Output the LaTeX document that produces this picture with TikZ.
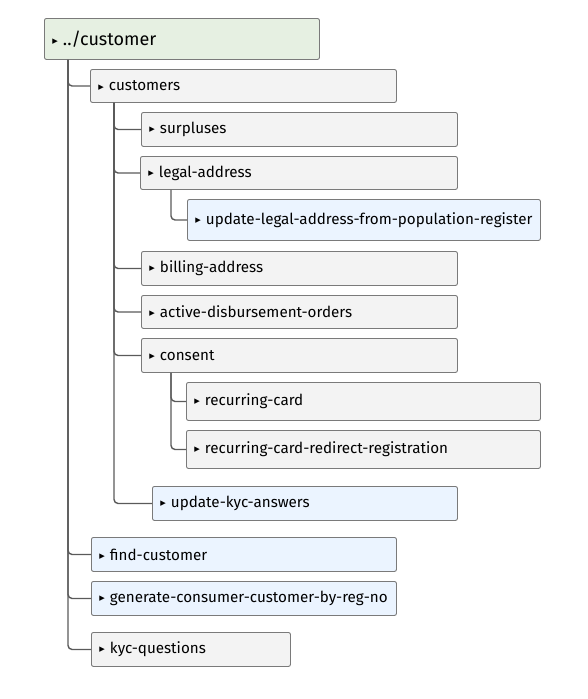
\documentclass[tikz,border=0pt]{standalone}
\usepackage{fontspec}
\setmainfont{Fira Sans}
\newfontfamily\arrowfont{DejaVu Sans}
\definecolor{greyfill}{HTML}{F3F3F3}
\definecolor{bluefill}{HTML}{EBF4FF}
\definecolor{greenfill}{HTML}{E6F0E2}
\definecolor{boxline}{HTML}{7A7A7A}
\definecolor{treeline}{HTML}{5A5A5A}
\newcommand{\tip}{{\arrowfont\fontsize{11}{11}\selectfont\raisebox{0.8pt}{▸}}\hspace{5pt}}
\tikzset{
  entry/.style={draw=boxline, line width=0.9pt, rounded corners=2pt, anchor=north west,
    inner xsep=8pt, inner ysep=0pt, align=left, font=\fontsize{15.2}{17}\selectfont},
  greybox/.style={entry, fill=greyfill},
  bluebox/.style={entry, fill=bluefill},
  rootbox/.style={entry, fill=greenfill, font=\fontsize{18}{20}\selectfont},
  link/.style={draw=treeline, line width=1.4pt, rounded corners=4pt}
}
\begin{document}
\begin{tikzpicture}[x=1pt, y=-1pt]
  \useasboundingbox (0,0) rectangle (587,699);
  % boxes
  \node[rootbox, text width=259pt, minimum height=41pt] (root) at (44,18) {\tip../customer};
  \node[greybox, text width=290pt, minimum height=33pt] (customers) at (90,69) {\tip customers};
  \node[greybox, text width=300pt, minimum height=34pt] (surpluses) at (141,112) {\tip surpluses};
  \node[greybox, text width=301pt, minimum height=33pt] (legal) at (140,156) {\tip legal-address};
  \node[bluebox, text width=337pt, minimum height=41pt] (poplegal) at (187,199) {\mbox{\tip update-legal-address-from-population-register}};
  \node[greybox, text width=300pt, minimum height=34pt] (billing) at (141,251) {\tip billing-address};
  \node[greybox, text width=300pt, minimum height=33pt] (disburse) at (141,295) {\tip active-disbursement-orders};
  \node[greybox, text width=300pt, minimum height=34pt] (consent) at (141,338) {\tip consent};
  \node[greybox, text width=338pt, minimum height=38pt] (card) at (186,382) {\tip recurring-card};
  \node[greybox, text width=338pt, minimum height=38pt] (redirect) at (186,430) {\tip recurring-card-redirect-registration};
  \node[bluebox, text width=289pt, minimum height=34pt] (kycanswers) at (152,486) {\tip update-kyc-answers};
  \node[bluebox, text width=289pt, minimum height=34pt] (find) at (91,537) {\tip find-customer};
  \node[bluebox, text width=289pt, minimum height=34pt] (generate) at (91,581) {\tip generate-consumer-customer-by-reg-no};
  \node[greybox, text width=183pt, minimum height=34pt] (kycquestions) at (91,632) {\tip kyc-questions};
  % tree lines
  \foreach \kid in {kycquestions, generate, find, customers}
    \draw[link] ([xshift=24pt]root.south west) |- (\kid.west);
  \foreach \kid in {kycanswers, consent, disburse, billing, legal, surpluses}
    \draw[link] ([xshift=24pt]customers.south west) |- (\kid.west);
  \draw[link] ([xshift=31pt]legal.south west) |- (poplegal.west);
  \foreach \kid in {redirect, card}
    \draw[link] ([xshift=30pt]consent.south west) |- (\kid.west);
\end{tikzpicture}
\end{document}
